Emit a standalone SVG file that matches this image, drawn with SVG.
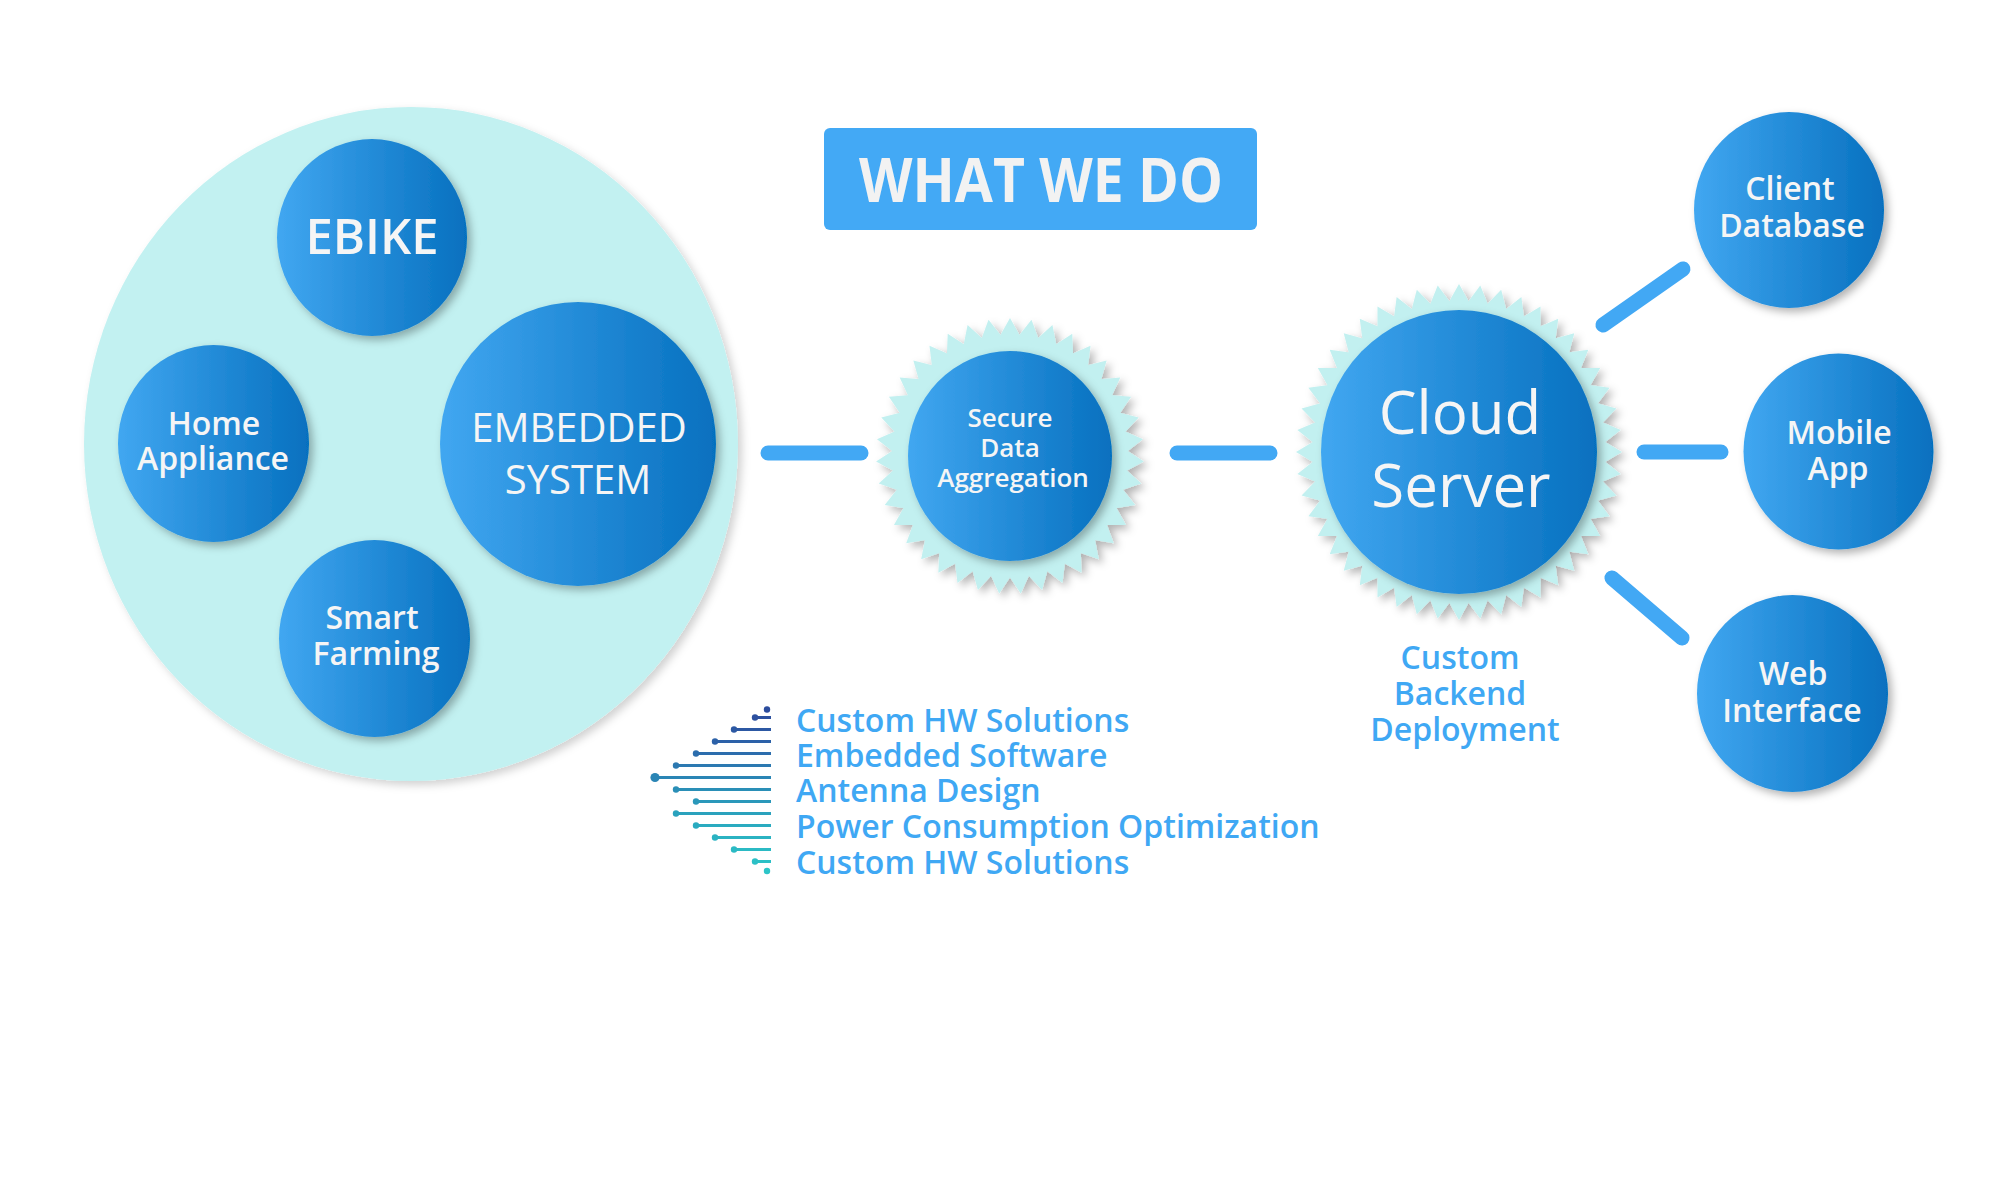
<svg xmlns="http://www.w3.org/2000/svg" xmlns:xlink="http://www.w3.org/1999/xlink" width="2000" height="1200" viewBox="0 0 2000 1200">
<style>
.node{fill:url(#blueGrad);filter:url(#shadow)}
.lbl{font-family:"Open Sans","Noto Sans","Liberation Sans",sans-serif;font-weight:600;fill:#F5F5F5;text-anchor:middle}
.lbl.reg{font-weight:400}
.blue{font-family:"Open Sans","Noto Sans","Liberation Sans",sans-serif;font-weight:600;fill:#3FA8F4}
.conn{stroke:#42A8F4;stroke-width:15;stroke-linecap:round;fill:none}
.gear{fill:#C2F0F0}
.trace{stroke-width:3;fill:none}
</style>
<defs>
<linearGradient id="blueGrad" x1="0" y1="0" x2="1" y2="0">
<stop offset="0" stop-color="#41A7F1"/>
<stop offset="1" stop-color="#0670BF"/>
</linearGradient>
<filter id="shadow" x="-20%" y="-20%" width="140%" height="140%">
<feDropShadow dx="4" dy="4" stdDeviation="4" flood-color="#000" flood-opacity="0.3"/>
</filter>
<filter id="softShadow" x="-10%" y="-10%" width="120%" height="120%">
<feDropShadow dx="4" dy="4" stdDeviation="4" flood-color="#000" flood-opacity="0.18"/>
</filter>
<polygon id="triS" points="0,-134 116.05,67 -116.05,67"/>
<polygon id="triC" points="0,-163 141.16,81.5 -141.16,81.5"/>
</defs>
<rect width="2000" height="1200" fill="#FFFFFF"/>

<g id="iot-domain">
<ellipse cx="411" cy="444" rx="327" ry="337" fill="#C2F1F1" filter="url(#softShadow)"/>
</g>

<g id="connectors">
<path class="conn" d="M768,453 H861"/>
<path class="conn" d="M1177,453 H1270"/>
<path class="conn" d="M1644,452 H1721"/>
<path class="conn" stroke-width="14" d="M1603,325 L1683,269"/>
<path class="conn" stroke-width="14" d="M1612,578 L1682,638"/>
</g>

<g id="title">
<rect x="824" y="128" width="433" height="102" rx="6" fill="#43A9F5"/>
<text x="1041" y="202" font-family="'Open Sans','Noto Sans','Liberation Sans',sans-serif" font-weight="bold" font-size="60" fill="#F2F2F2" text-anchor="middle" textLength="364" lengthAdjust="spacingAndGlyphs">WHAT WE DO</text>
</g>

<g id="node-ebike">
<ellipse class="node" cx="372" cy="237.5" rx="95" ry="98.5"/>
<text class="lbl" x="372" y="254" font-size="49">EBIKE</text>
</g>

<g id="node-home-appliance">
<ellipse class="node" cx="213.5" cy="443.5" rx="95.5" ry="98.5"/>
<text class="lbl" x="214" y="435" font-size="32">Home</text>
<text class="lbl" x="213" y="470" font-size="32">Appliance</text>
</g>

<g id="node-smart-farming">
<ellipse class="node" cx="374.5" cy="638.5" rx="95.5" ry="98.5"/>
<text class="lbl" x="372" y="629" font-size="32">Smart</text>
<text class="lbl" x="376" y="665" font-size="32">Farming</text>
</g>

<g id="node-embedded-system">
<ellipse class="node" cx="578" cy="444" rx="138" ry="142"/>
<text class="lbl reg" x="579" y="442" font-size="40">EMBEDDED</text>
<text class="lbl reg" x="578" y="494" font-size="40">SYSTEM</text>
</g>

<g id="node-secure-data">
<g filter="url(#shadow)" transform="translate(1010,456) scale(1,1.03)">
<g class="gear">
<use xlink:href="#triS"/>
<use xlink:href="#triS" transform="rotate(9.231)"/>
<use xlink:href="#triS" transform="rotate(18.462)"/>
<use xlink:href="#triS" transform="rotate(27.692)"/>
<use xlink:href="#triS" transform="rotate(36.923)"/>
<use xlink:href="#triS" transform="rotate(46.154)"/>
<use xlink:href="#triS" transform="rotate(55.385)"/>
<use xlink:href="#triS" transform="rotate(64.615)"/>
<use xlink:href="#triS" transform="rotate(73.846)"/>
<use xlink:href="#triS" transform="rotate(83.077)"/>
<use xlink:href="#triS" transform="rotate(92.308)"/>
<use xlink:href="#triS" transform="rotate(101.538)"/>
<use xlink:href="#triS" transform="rotate(110.769)"/>
</g>
</g>
<ellipse class="node" cx="1010" cy="456" rx="102" ry="105"/>
<text class="lbl" x="1010" y="427" font-size="26">Secure</text>
<text class="lbl" x="1010" y="457" font-size="26">Data</text>
<text class="lbl" x="1013" y="487" font-size="26">Aggregation</text>
</g>

<g id="node-cloud-server">
<g filter="url(#shadow)" transform="translate(1459,452) scale(1,1.03)">
<g class="gear">
<use xlink:href="#triC"/>
<use xlink:href="#triC" transform="rotate(7.5)"/>
<use xlink:href="#triC" transform="rotate(15)"/>
<use xlink:href="#triC" transform="rotate(22.5)"/>
<use xlink:href="#triC" transform="rotate(30)"/>
<use xlink:href="#triC" transform="rotate(37.5)"/>
<use xlink:href="#triC" transform="rotate(45)"/>
<use xlink:href="#triC" transform="rotate(52.5)"/>
<use xlink:href="#triC" transform="rotate(60)"/>
<use xlink:href="#triC" transform="rotate(67.5)"/>
<use xlink:href="#triC" transform="rotate(75)"/>
<use xlink:href="#triC" transform="rotate(82.5)"/>
<use xlink:href="#triC" transform="rotate(90)"/>
<use xlink:href="#triC" transform="rotate(97.5)"/>
<use xlink:href="#triC" transform="rotate(105)"/>
<use xlink:href="#triC" transform="rotate(112.5)"/>
</g>
</g>
<ellipse class="node" cx="1459" cy="452" rx="138" ry="142"/>
<text class="lbl reg" x="1460" y="434" font-size="60">Cloud</text>
<text class="lbl reg" x="1461" y="507" font-size="60">Server</text>
</g>

<g id="label-custom-backend">
<text class="blue" x="1460" y="669" font-size="32" text-anchor="middle">Custom</text>
<text class="blue" x="1460" y="705" font-size="32" text-anchor="middle">Backend</text>
<text class="blue" x="1465" y="741" font-size="32" text-anchor="middle">Deployment</text>
</g>

<g id="node-client-database">
<ellipse class="node" cx="1789" cy="210" rx="95" ry="98"/>
<text class="lbl" x="1790" y="200" font-size="32">Client</text>
<text class="lbl" x="1792" y="237" font-size="32">Database</text>
</g>

<g id="node-mobile-app">
<ellipse class="node" cx="1838.5" cy="451.5" rx="95" ry="98"/>
<text class="lbl" x="1839" y="444" font-size="32">Mobile</text>
<text class="lbl" x="1838" y="480" font-size="32">App</text>
</g>

<g id="node-web-interface">
<ellipse class="node" cx="1792.5" cy="693.5" rx="95.5" ry="98.5"/>
<text class="lbl" x="1793" y="685" font-size="32">Web</text>
<text class="lbl" x="1792" y="722" font-size="32">Interface</text>
</g>

<g id="services-icon">
<circle cx="767" cy="709.5" r="3.2" fill="#2C4C9D"/>
<path class="trace" stroke="#2D519F" d="M755,717.5 H771"/><circle cx="755" cy="717.5" r="3.2" fill="#2D519F"/>
<path class="trace" stroke="#2C58A3" d="M734,729.5 H771"/><circle cx="734" cy="729.5" r="3.2" fill="#2C58A3"/>
<path class="trace" stroke="#2C61A8" d="M715,741.5 H771"/><circle cx="715" cy="741.5" r="3.2" fill="#2C61A8"/>
<path class="trace" stroke="#2C6DAD" d="M696,753.5 H771"/><circle cx="696" cy="753.5" r="3.2" fill="#2C6DAD"/>
<path class="trace" stroke="#2C79B1" d="M676,765.5 H771"/><circle cx="676" cy="765.5" r="3.2" fill="#2C79B1"/>
<path class="trace" stroke="#2A85B5" d="M655,777.5 H771"/><circle cx="655" cy="777.5" r="4.6" fill="#2A85B5"/>
<path class="trace" stroke="#2A8FB7" d="M676,789.5 H771"/><circle cx="676" cy="789.5" r="3.2" fill="#2A8FB7"/>
<path class="trace" stroke="#2A98BA" d="M696,801.5 H771"/><circle cx="696" cy="801.5" r="3.2" fill="#2A98BA"/>
<path class="trace" stroke="#2AA2BD" d="M676,813.5 H771"/><circle cx="676" cy="813.5" r="3.2" fill="#2AA2BD"/>
<path class="trace" stroke="#2AABC0" d="M696,825.5 H771"/><circle cx="696" cy="825.5" r="3.2" fill="#2AABC0"/>
<path class="trace" stroke="#2BB3C2" d="M715,837.5 H771"/><circle cx="715" cy="837.5" r="3.2" fill="#2BB3C2"/>
<path class="trace" stroke="#2BBAC4" d="M734,849.5 H771"/><circle cx="734" cy="849.5" r="3.2" fill="#2BBAC4"/>
<path class="trace" stroke="#2CC0C6" d="M755,861.5 H771"/><circle cx="755" cy="861.5" r="3.2" fill="#2CC0C6"/>
<circle cx="767" cy="871" r="3.2" fill="#2DC5C8"/>
</g>

<g id="services-list">
<text class="blue" x="796" y="732" font-size="32">Custom HW Solutions</text>
<text class="blue" x="796" y="767" font-size="32">Embedded Software</text>
<text class="blue" x="796" y="802" font-size="32">Antenna Design</text>
<text class="blue" x="796" y="838" font-size="32">Power Consumption Optimization</text>
<text class="blue" x="796" y="874" font-size="32">Custom HW Solutions</text>
</g>
</svg>
